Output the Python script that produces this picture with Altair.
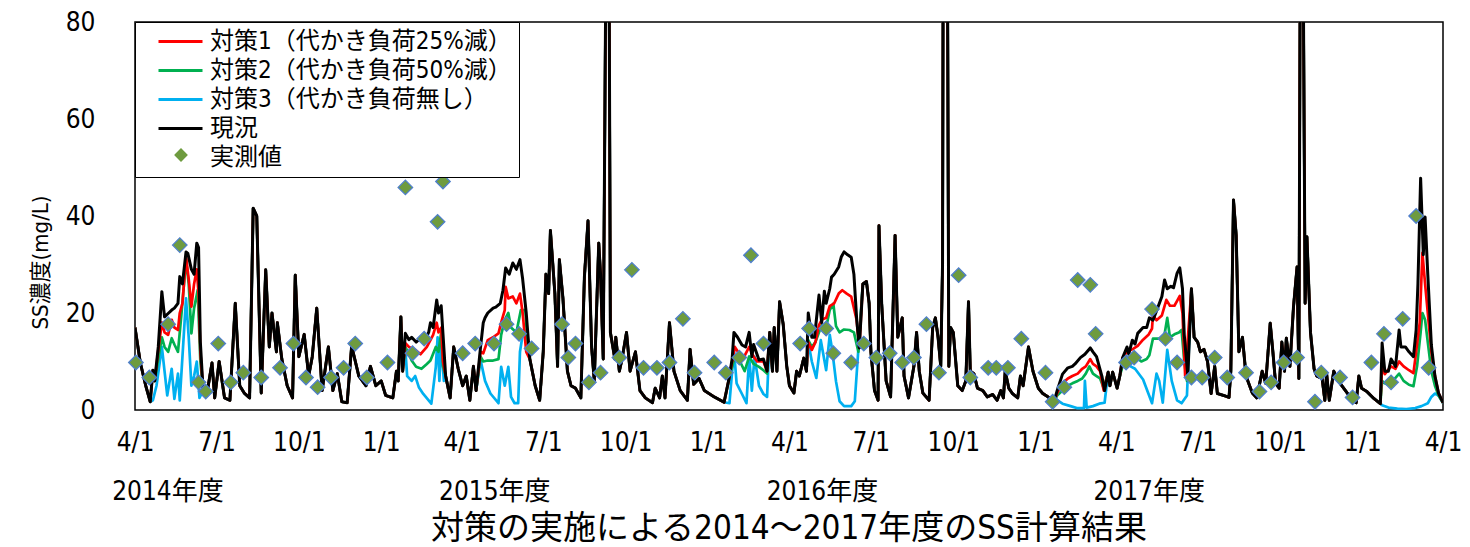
import altair as alt
import pandas as pd

FONT = "Liberation Sans Narrow, DejaVu Sans Condensed, Noto Sans CJK JP, sans-serif"
START = pd.Timestamp("2014-04-01")

S1 = "対策1（代かき負荷25%減）"
S2 = "対策2（代かき負荷50%減）"
S3 = "対策3（代かき負荷無し）"
S0 = "現況"
OBS = "実測値"

# ---- 現況 (black line): day offset from 2014-04-01, SS (mg/L) ----
genkyo_day = [
    0, 6, 12, 17, 20, 22, 26, 30, 33, 37, 41, 44, 48, 50, 53, 57, 59, 63, 66, 69, 71, 73, 76, 80,
    86, 89, 94, 100, 106, 112, 117, 122, 128, 132, 136, 141, 146, 150, 153, 158, 159, 164, 170, 176,
    179, 183, 189, 194, 198, 203, 209, 216, 221, 226, 231, 237, 242, 250, 258, 263, 269, 275, 280,
    288, 292, 294, 297, 299, 302, 306, 309, 314, 320, 324, 328, 330, 333, 337, 339, 342, 347, 352,
    356, 361, 366, 370, 374, 378, 381, 386, 389, 391, 394, 400, 403, 408, 411, 414, 418, 422, 426,
    430, 433, 437, 441, 447, 452, 456, 459, 462, 464, 469, 472, 474, 478, 483, 487, 492, 498, 502,
    506, 510, 513, 518, 520, 523, 527, 529, 531, 536, 537, 541, 544, 549, 553, 559, 564, 570, 578,
    581, 586, 589, 592, 597, 602, 609, 617, 620, 624, 630, 636, 647, 658, 663, 667, 669, 673, 678,
    682, 686, 689, 691, 697, 702, 706, 709, 712, 714, 717, 720, 724, 728, 731, 736, 739, 742, 747,
    750, 752, 756, 759, 764, 767, 770, 772, 776, 778, 781, 786, 789, 792, 796, 800, 803, 806, 809,
    813, 817, 820, 822, 826, 830, 831, 834, 839, 844, 849, 852, 857, 859, 864, 870, 873, 876, 880,
    887, 891, 894, 897, 900, 902, 903, 907, 909, 911, 914, 919, 924, 928, 931, 933, 937, 941, 947,
    952, 958, 963, 967, 970, 972, 976, 980, 986, 989, 992, 998, 1003, 1009, 1014, 1020, 1026, 1030,
    1036, 1042, 1047, 1050, 1056, 1061, 1067, 1070, 1074, 1080, 1083, 1087, 1089, 1092, 1097, 1100,
    1103, 1108, 1110, 1114, 1117, 1120, 1126, 1130, 1133, 1137, 1141, 1147, 1150, 1153, 1157, 1160,
    1164, 1167, 1170, 1172, 1176, 1180, 1183, 1187, 1190, 1194, 1198, 1202, 1206, 1209, 1216, 1222,
    1224, 1227, 1230, 1233, 1237, 1240, 1242, 1248, 1253, 1259, 1263, 1268, 1271, 1274, 1278, 1281,
    1284, 1286, 1290, 1294, 1298, 1300, 1302, 1304, 1307, 1309, 1313, 1317, 1320, 1326, 1329, 1331,
    1334, 1339, 1344, 1350, 1356, 1361, 1364, 1367, 1370, 1376, 1383, 1391, 1393, 1396, 1400, 1403,
    1408, 1412, 1414, 1419, 1423, 1428, 1431, 1433, 1436, 1439, 1441, 1444, 1448, 1452, 1456, 1461,
]
genkyo_val = [
    17, 9.7, 5, 1.7, 8.2, 6, 13, 24.4, 19.2, 19.9, 20.6, 21, 22, 27.5, 26, 32.6, 32.3, 29, 28, 34.4, 33.5, 14, 4.3, 3,
    9.7, 2.5, 10, 2.5, 2, 22, 5, 3.5, 2.5, 41.6, 40, 3.5, 28.9, 13, 20, 12, 18, 10.5, 5, 2.5,
    27.8, 11, 15.6, 7, 11, 21, 4, 13, 4, 7.5, 1.7, 1.5, 13.2, 7, 5, 9, 5, 6, 3,
    2.5, 8, 6, 19.2, 8, 15.8, 14.5, 15, 14, 15, 14.5, 16, 18, 17, 22.7, 20, 21.5, 7, 2.5,
    13, 8.5, 5, 7, 2, 9, 4, 13, 18, 19, 20, 21, 21.2, 22, 24.7, 29.3, 28, 30.3, 29,
    31, 27, 20, 10.5, 5, 2, 12, 28, 24, 37, 24, 9, 31, 23, 8, 5, 4.5, 2.5, 27.5,
    39, 13, 6, 34.4, 28, 10.5, 120, 120, 16, 10.5, 15, 8, 10.5, 16, 8, 12, 4, 2.5, 1.5,
    4.5, 2.5, 7, 2.5, 18, 8, 4, 2, 12.5, 5.3, 6.5, 4, 2.7, 1.6, 6, 10.5, 16, 15, 13.4,
    13, 16, 11, 13.5, 10.3, 10.5, 8, 16, 8, 17, 8, 22.3, 17.7, 9, 5, 3.5, 8, 7, 10.7,
    8, 20, 15, 15, 23.7, 18, 24.5, 22, 25, 27.4, 28, 29.5, 31.6, 32.6, 32, 31.5, 28, 19, 12.8,
    26, 26.5, 22, 12, 4, 2, 38, 22, 6, 2.7, 36, 15, 19, 7, 2.5, 9, 16, 8, 3.5,
    2, 17, 19, 15, 9, 30, 120, 120, 9, 17, 16, 5, 4, 6, 22.3, 8, 7.5, 4.5, 4,
    2.7, 3.2, 2, 4, 2.5, 8, 4.5, 3.4, 2.5, 7, 5, 13, 8, 4.5, 3.4, 2.7, 1.3, 4,
    7.4, 8.7, 9, 9.5, 10.8, 11.5, 12.8, 12, 11, 7, 4, 7.8, 5, 7.8, 4.5, 7,
    10.7, 13, 11.5, 14.4, 13.6, 15.8, 17, 17, 19, 18.5, 20.4, 23.4, 26.8, 25, 25.5, 25.2,
    28.2, 29.3, 25, 15.5, 7, 25, 15, 14, 12, 12.5, 10, 3.4, 9, 3.4, 3, 2.6,
    8, 43.3, 36, 12, 15, 9, 6.5, 3.5, 2.5, 8, 5.5, 17.9, 12, 5.5, 4.5, 14,
    8, 14.8, 9, 21.2, 29.5, 6.5, 120, 120, 22, 35.7, 16, 8.5, 7, 6.5, 2, 7.5,
    2, 8, 6, 4.5, 3, 2, 1.5, 7, 4.5, 3.8, 2.5, 1.3, 13.8, 8, 8, 10.5,
    9, 16.5, 13, 13, 12, 11, 16.5, 26, 47.8, 32, 39.8, 28, 13.4, 7, 3.5, 1.5,
]

# periods (open intervals, day offsets) in which the measures differ from 現況
diff_periods = [(19, 77), (297, 347), (383, 442), (661, 708), (750, 811),
                (1027, 1086), (1101, 1177), (1391, 1461)]

# ---- 対策1 (red) inside those periods ----
t1_day = [20, 22, 26, 30, 33, 37, 41, 44, 48, 50, 53, 57, 60, 63, 66, 69, 71, 73, 76,
          299, 302, 306, 313, 319, 326, 330, 333, 337, 339, 342, 344,
          386, 389, 394, 400, 406, 409, 413, 414, 417, 422, 426, 430, 433, 437, 441,
          663, 667, 670, 676, 679, 686, 691, 695, 702, 706,
          752, 756, 760, 764, 767, 772, 776, 781, 786, 790, 795, 800, 806, 809,
          1030, 1036, 1042, 1047, 1053, 1058, 1062, 1067, 1070, 1074, 1078, 1082,
          1103, 1108, 1114, 1120, 1126, 1132, 1136, 1137, 1141, 1147, 1152, 1156, 1161, 1164, 1167, 1170, 1173,
          1393, 1396, 1403, 1408, 1412, 1417, 1423, 1428, 1431, 1435, 1438, 1441, 1444, 1448, 1452, 1456]
t1_val = [8.2, 6, 12.4, 18, 16, 15.5, 18.6, 17, 16.5, 20, 22, 31.6, 27, 21.3, 26, 29, 24, 12, 4.3,
          8, 13.8, 13, 12.4, 11.5, 13, 14.4, 15.5, 18, 16, 17, 10,
          12, 11.7, 14.4, 15, 15.8, 18, 20.6, 25.4, 23, 23.4, 22, 24, 20, 12, 10.5,
          6, 10, 13, 11.3, 10.5, 13, 11, 10, 10, 8,
          14, 12.4, 14, 17.5, 18.6, 19, 21.4, 22, 24, 24.7, 24, 23.4, 18.6, 12.8,
          3.5, 5.5, 6.5, 7, 7.5, 8.5, 9, 10.5, 9.5, 9, 8, 4,
          10.7, 12, 12.5, 13.2, 14.5, 15.5, 16.8, 19.5, 18.5, 19.5, 22.7, 21.5, 21.5, 22.5, 23.5, 20, 7,
          9, 7.4, 9, 8.5, 10, 9, 8.2, 7.6, 12, 18, 32.4, 26, 20, 12, 7, 3.5]

# ---- 対策2 (green) inside those periods ----
t2_day = [20, 22, 26, 30, 33, 37, 41, 44, 48, 52, 57, 60, 63, 66, 70, 73, 76,
          299, 302, 306, 309, 314, 320, 326, 330, 336, 339, 342, 344,
          386, 389, 394, 400, 406, 409, 413, 417, 420, 426, 431, 436, 439, 441,
          664, 670, 676, 681, 686, 691, 697, 702, 706,
          752, 756, 760, 767, 772, 776, 780, 783, 787, 792, 798, 803, 808,
          1030, 1036, 1042, 1047, 1053, 1058, 1062, 1066, 1070, 1074, 1078, 1082,
          1103, 1108, 1114, 1117, 1124, 1130, 1133, 1137, 1144, 1150, 1153, 1156, 1161, 1166, 1169, 1172, 1175,
          1393, 1396, 1400, 1405, 1412, 1417, 1423, 1428, 1432, 1436, 1438, 1441, 1444, 1448, 1452, 1456]
t2_val = [8.2, 6, 10.5, 15, 13, 12, 14.8, 13.5, 12, 20, 31, 26, 15.8, 21, 24.7, 10, 4.3,
          8, 13, 11.5, 10.2, 8.9, 8.5, 9.5, 10.2, 13, 12, 16, 9,
          11, 10, 10.2, 10.2, 10.5, 15.5, 18.6, 20, 17, 16, 20.6, 20.6, 12, 10.5,
          6.8, 11, 9.9, 8, 11, 9.5, 8.9, 8.2, 7.5,
          14.4, 13, 14, 17.5, 17, 20.6, 21.9, 17.3, 16, 16.6, 16.5, 16, 12,
          3, 4, 5, 5.5, 6, 6.5, 7.5, 9, 7.5, 7, 6.5, 4.5,
          9, 10, 10.3, 11, 10, 10.5, 11.3, 14.7, 14.7, 15.6, 19, 15, 15.6, 16, 16.5, 10, 6,
          6, 5.5, 5.2, 6, 7.5, 6, 5.2, 4.9, 9, 16, 20, 18.6, 14, 8, 5, 3]

# ---- 対策3 (blue) inside those periods ----
t3_day = [20, 24, 30, 33, 36, 41, 44, 48, 50, 54, 57, 60, 63, 66, 69, 72, 76,
          298, 302, 304, 309, 313, 317, 322, 328, 331, 336, 338, 340, 342, 345,
          386, 391, 397, 406, 409, 413, 417, 420, 424, 428, 430, 433, 437, 441,
          664, 669, 672, 678, 683, 686, 689, 692, 697, 702, 706,
          752, 756, 761, 766, 772, 776, 779, 783, 787, 792, 800, 804, 808,
          1028, 1036, 1045, 1052, 1060, 1061, 1063, 1070, 1077, 1083,
          1103, 1108, 1112, 1117, 1126, 1136, 1141, 1144, 1148, 1153, 1158, 1164, 1169, 1175,
          1393, 1400, 1410, 1420, 1430, 1437, 1444, 1448, 1452, 1456]
t3_val = [2, 5, 13, 8, 3, 8.5, 2.3, 7.5, 2, 14, 23, 15, 5, 7, 10, 2.5, 4,
          11, 12.4, 7, 6, 7, 4.7, 3.3, 2, 1.3, 8.9, 15, 6, 14, 6,
          10.3, 6, 3.4, 1.4, 8.9, 5, 8.9, 2.7, 1.4, 1.4, 12, 15.5, 16.5, 10.5,
          1.4, 12.4, 5.5, 3.3, 1.4, 11, 4, 11, 5, 3.3, 2.7,
          14, 10, 6.6, 14.4, 8.2, 15.5, 12, 5.9, 1.8, 0.8, 0.8, 1.8, 12.6,
          2.3, 1.3, 0.8, 0.4, 0.4, 6, 0.5, 0.8, 1.3, 1.5,
          10, 11, 9, 8.5, 6.3, 1.4, 7.5, 6, 1.5, 12.4, 6, 2, 1.4, 3,
          1, 0.5, 0.3, 0.2, 0.4, 0.8, 1.4, 2.7, 3.4, 3]

# ---- 実測値 (observed) ----
obs_day = [1, 16, 37, 50, 71, 79, 93, 107, 121, 141, 162, 177, 191, 204, 219, 233, 246, 259, 282,
           302, 310, 323, 338, 344, 366, 380, 401, 415, 429, 443, 477, 484, 492, 507, 520, 541, 555,
           568, 583, 597, 612, 625, 647, 660, 675, 688, 702, 743, 753, 772, 780, 800, 814, 828, 843,
           857, 870, 884, 898, 920, 933, 953, 962, 975, 990, 1017, 1025, 1038, 1053, 1067, 1073, 1107,
           1116, 1136, 1151, 1164, 1180, 1192, 1206, 1220, 1241, 1256, 1269, 1283, 1298, 1318, 1325,
           1346, 1360, 1381, 1395, 1403, 1416, 1431, 1445]
obs_val = [9.8, 6.7, 17.7, 34, 5.7, 3.8, 13.7, 5.7, 7.7, 6.7, 8.7, 13.7, 6.7, 4.7, 6.7, 8.7, 13.7, 6.7, 9.8,
           45.9, 11.7, 14.7, 38.8, 47.1, 11.7, 13.7, 13.7, 17.7, 15.7, 12.7, 17.7, 10.8, 13.7, 5.7, 7.7, 10.8, 28.9,
           8.7, 8.7, 9.8, 18.8, 7.7, 9.8, 7.7, 10.8, 31.9, 13.7, 13.7, 16.8, 16.8, 11.7, 9.8, 13.7, 10.8, 11.7,
           9.8, 10.8, 17.7, 7.7, 27.8, 6.7, 8.7, 8.7, 8.7, 14.7, 7.7, 1.7, 4.7, 26.8, 25.8, 15.7, 9.8,
           10.8, 20.8, 14.7, 9.8, 6.7, 6.7, 10.8, 6.7, 7.7, 3.8, 5.7, 9.8, 10.8, 1.7, 7.7,
           6.7, 2.6, 9.8, 15.7, 5.7, 18.8, 40, 8.7]

# fiscal-year labels
fy_labels = ["2014年度", "2015年度", "2016年度", "2017年度"]
fy_start = ["2014-04-01", "2015-04-01", "2016-04-01", "2017-04-01"]


def to_date(days):
    return [(START + pd.Timedelta(days=int(d))).strftime("%Y-%m-%d") for d in days]


def inside(d):
    return any(a < d < b for a, b in diff_periods)


rows = []
for name, dd, vv in [(S1, t1_day, t1_val), (S2, t2_day, t2_val), (S3, t3_day, t3_val)]:
    pts = [(d, v) for d, v in zip(genkyo_day, genkyo_val) if not inside(d)]
    pts += list(zip(dd, vv))
    pts.sort(key=lambda p: p[0])
    for (d, v), ds in zip(pts, to_date([p[0] for p in pts])):
        rows.append({"date": ds, "value": v, "series": name})
for ds, v in zip(to_date(genkyo_day), genkyo_val):
    rows.append({"date": ds, "value": v, "series": S0})
lines_df = pd.DataFrame(rows)

obs_df = pd.DataFrame({"date": to_date(obs_day), "value": obs_val, "kind": OBS})
fy_df = pd.DataFrame({"date": fy_start, "label": fy_labels})

tick_dates = []
for y in range(2014, 2019):
    for m in (1, 4, 7, 10):
        if (y == 2014 and m < 4) or (y == 2018 and m > 4):
            continue
        tick_dates.append(alt.DateTime(year=y, month=m, date=1, utc=True))

xscale = alt.Scale(type="utc", domain=[alt.DateTime(year=2014, month=4, date=1, utc=True),
                                       alt.DateTime(year=2018, month=4, date=1, utc=True)], nice=False)
yscale = alt.Scale(domain=[0, 80], nice=False)

xaxis = alt.Axis(values=tick_dates, format="%-m/%-d", ticks=False, domain=False, grid=False,
                 labelFontSize=26, labelFont=FONT, labelColor="black", labelPadding=19,
                 title=None, labelFlush=False, labelOverlap=False)
yaxis = alt.Axis(values=[0, 20, 40, 60, 80], ticks=False, domain=False, grid=False,
                 labelFontSize=26, labelFont=FONT, labelColor="black", labelPadding=40,
                 title="SS濃度(mg/L)", titleFont=FONT, titleFontSize=22, titleFontWeight="normal",
                 titleColor="black", titleX=-95, titleY=240, titleBaseline="middle", titleAngle=270)

cscale = alt.Scale(domain=[S1, S2, S3, S0, OBS],
                   range=["#FF0000", "#00B050", "#00B0F0", "#000000", "rgba(0,0,0,0)"])
leg1 = alt.Legend(title=None, orient="none", legendX=0, legendY=0, direction="vertical",
                  strokeColor="black", fillColor="white", padding=7,
                  symbolType="M-1,0H3", symbolSize=484, symbolStrokeWidth=3, symbolOffset=15,
                  labelOffset=28, labelFontSize=24, labelFont=FONT, labelColor="black",
                  labelLimit=0, rowPadding=4, zindex=0)

base = alt.Chart(lines_df).encode(
    x=alt.X("date:T", scale=xscale, axis=xaxis),
    y=alt.Y("value:Q", scale=yscale, axis=yaxis),
    color=alt.Color("series:N", scale=cscale, legend=leg1),
)

layers = []
for name in [S3, S2, S1, S0]:
    layers.append(base.transform_filter(alt.datum.series == name)
                  .mark_line(strokeWidth=3 if name == S0 else 2.7, clip=True, strokeJoin="round"))

points = alt.Chart(obs_df).mark_point(filled=True, fill="#6E9B3F", stroke="#4F7FCB", strokeWidth=1.3,
                                       size=210, opacity=1).encode(
    x=alt.X("date:T", scale=xscale),
    y=alt.Y("value:Q", scale=yscale),
    shape=alt.Shape("kind:N", scale=alt.Scale(domain=[OBS], range=["diamond"]),
                    legend=alt.Legend(title=None, orient="none", legendX=38, legendY=125,
                                      padding=0, symbolOffset=0, symbolSize=190,
                                      symbolFillColor="#6E9B3F", symbolStrokeColor="#4F7FCB",
                                      symbolStrokeWidth=1.3, labelExpr="''", labelFontSize=8,
                                      zindex=1)),
)

fy_text = alt.Chart(fy_df).mark_text(fontSize=26, font=FONT, dx=33, align="center",
                                      baseline="middle", color="black").encode(
    x=alt.X("date:T", scale=xscale),
    y=alt.value(470),
    text="label:N",
)

chart = alt.layer(*layers, points, fy_text).properties(
    width=1308, height=388,
    title=alt.TitleParams("対策の実施による2014～2017年度のSS計算結果", orient="bottom",
                          fontSize=33, font=FONT, fontWeight="normal", color="black",
                          anchor="middle", offset=8),
    autosize=alt.AutoSizeParams(type="none"),
    padding={"left": 127, "top": 14, "right": 19, "bottom": 137},
).configure_view(stroke="black", strokeWidth=1.5)

chart.save("out.html", embed_options={"renderer": "svg", "actions": False})
